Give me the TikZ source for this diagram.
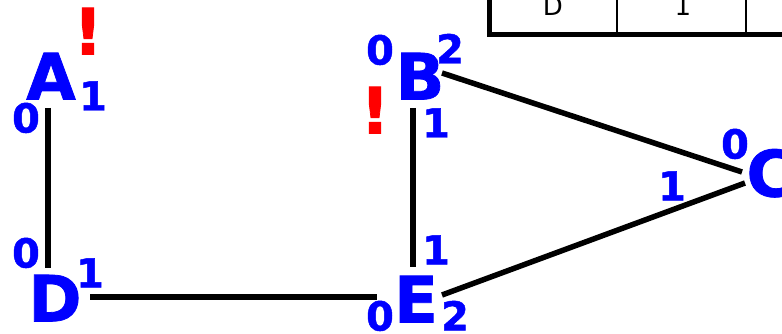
\documentclass[tikz,border=0pt]{standalone}
\usepackage{fontspec}
\setmainfont{DejaVu Sans}
\newfontfamily\heavyfont[FakeBold=1.2]{DejaVu Sans Bold}
\definecolor{vblue}{RGB}{0,0,255}
\definecolor{vred}{RGB}{255,0,0}
\begin{document}
\begin{tikzpicture}[x=1pt,y=-1pt,
  vtx/.style={font=\fontsize{64}{64}\heavyfont, text=vblue, inner sep=0pt, text height=47pt, text depth=0pt, anchor=center},
  num/.style={font=\fontsize{40}{40}\heavyfont, text=vblue, inner sep=0pt, text height=29pt, text depth=0pt, anchor=center},
  bang/.style={font=\fontsize{64}{64}\heavyfont, text=vred, inner sep=0pt, text height=47pt, text depth=0pt, anchor=center},
  edge/.style={line width=5.5pt},
  cell/.style={font=\fontsize{26}{26}\selectfont, inner sep=0pt, anchor=base},
  thickrule/.style={line width=5pt},
  thinrule/.style={line width=2pt}]
\useasboundingbox (0,0) rectangle (782,334);
\clip (0,0) rectangle (782,334);
% table fragment
\node[cell] (t1) at (553,16) {D};
\node[cell] (t2) at (683,16) {1};
\draw[thinrule] (617,-5) -- (617,34) (746,-5) -- (746,34);
\draw[thickrule] (489,-5) -- (489,34.5) -- (790,34.5);
% vertices
\node[vtx] (A) at (51,76) {A};
\node[vtx] (B) at (420,76) {B};
\node[vtx] (C) at (770,173) {C};
\node[vtx] (D) at (55,298) {D};
\node[vtx] (E) at (416,299) {E};
% edges
\draw[edge] ([shift={(-3,32)}]A.center) -- ([shift={(-7,-30)}]D.center);
\draw[edge] ([shift={(-7,32)}]B.center) -- ([shift={(-3,-32)}]E.center);
\draw[edge] ([shift={(35,-1)}]D.center) -- ([shift={(-39,-2)}]E.center);
\draw[edge] ([shift={(22,-3)}]B.center) -- ([shift={(-28,-1)}]C.center);
\draw[edge] ([shift={(26,-4)}]E.center) -- ([shift={(-25,10)}]C.center);
% labels
\node[bang] (Abang) at (88,31) {!};
\node[num] (A1) at (93,96) {1};
\node[num] (A0) at (26,118) {0};
\node[num] (B0) at (380,50) {0};
\node[num] (B2) at (450,49) {2};
\node[num] (B1) at (436,123) {1};
\node[bang] (Bbang) at (375,110) {!};
\node[num] (C0) at (735,144) {0};
\node[num] (C1) at (672,186) {1};
\node[num] (D0) at (26,253) {0};
\node[num] (D1) at (90,273) {1};
\node[num] (E1) at (436,250) {1};
\node[num] (E0) at (380,316) {0};
\node[num] (E2) at (455,316) {2};
\end{tikzpicture}
\end{document}
